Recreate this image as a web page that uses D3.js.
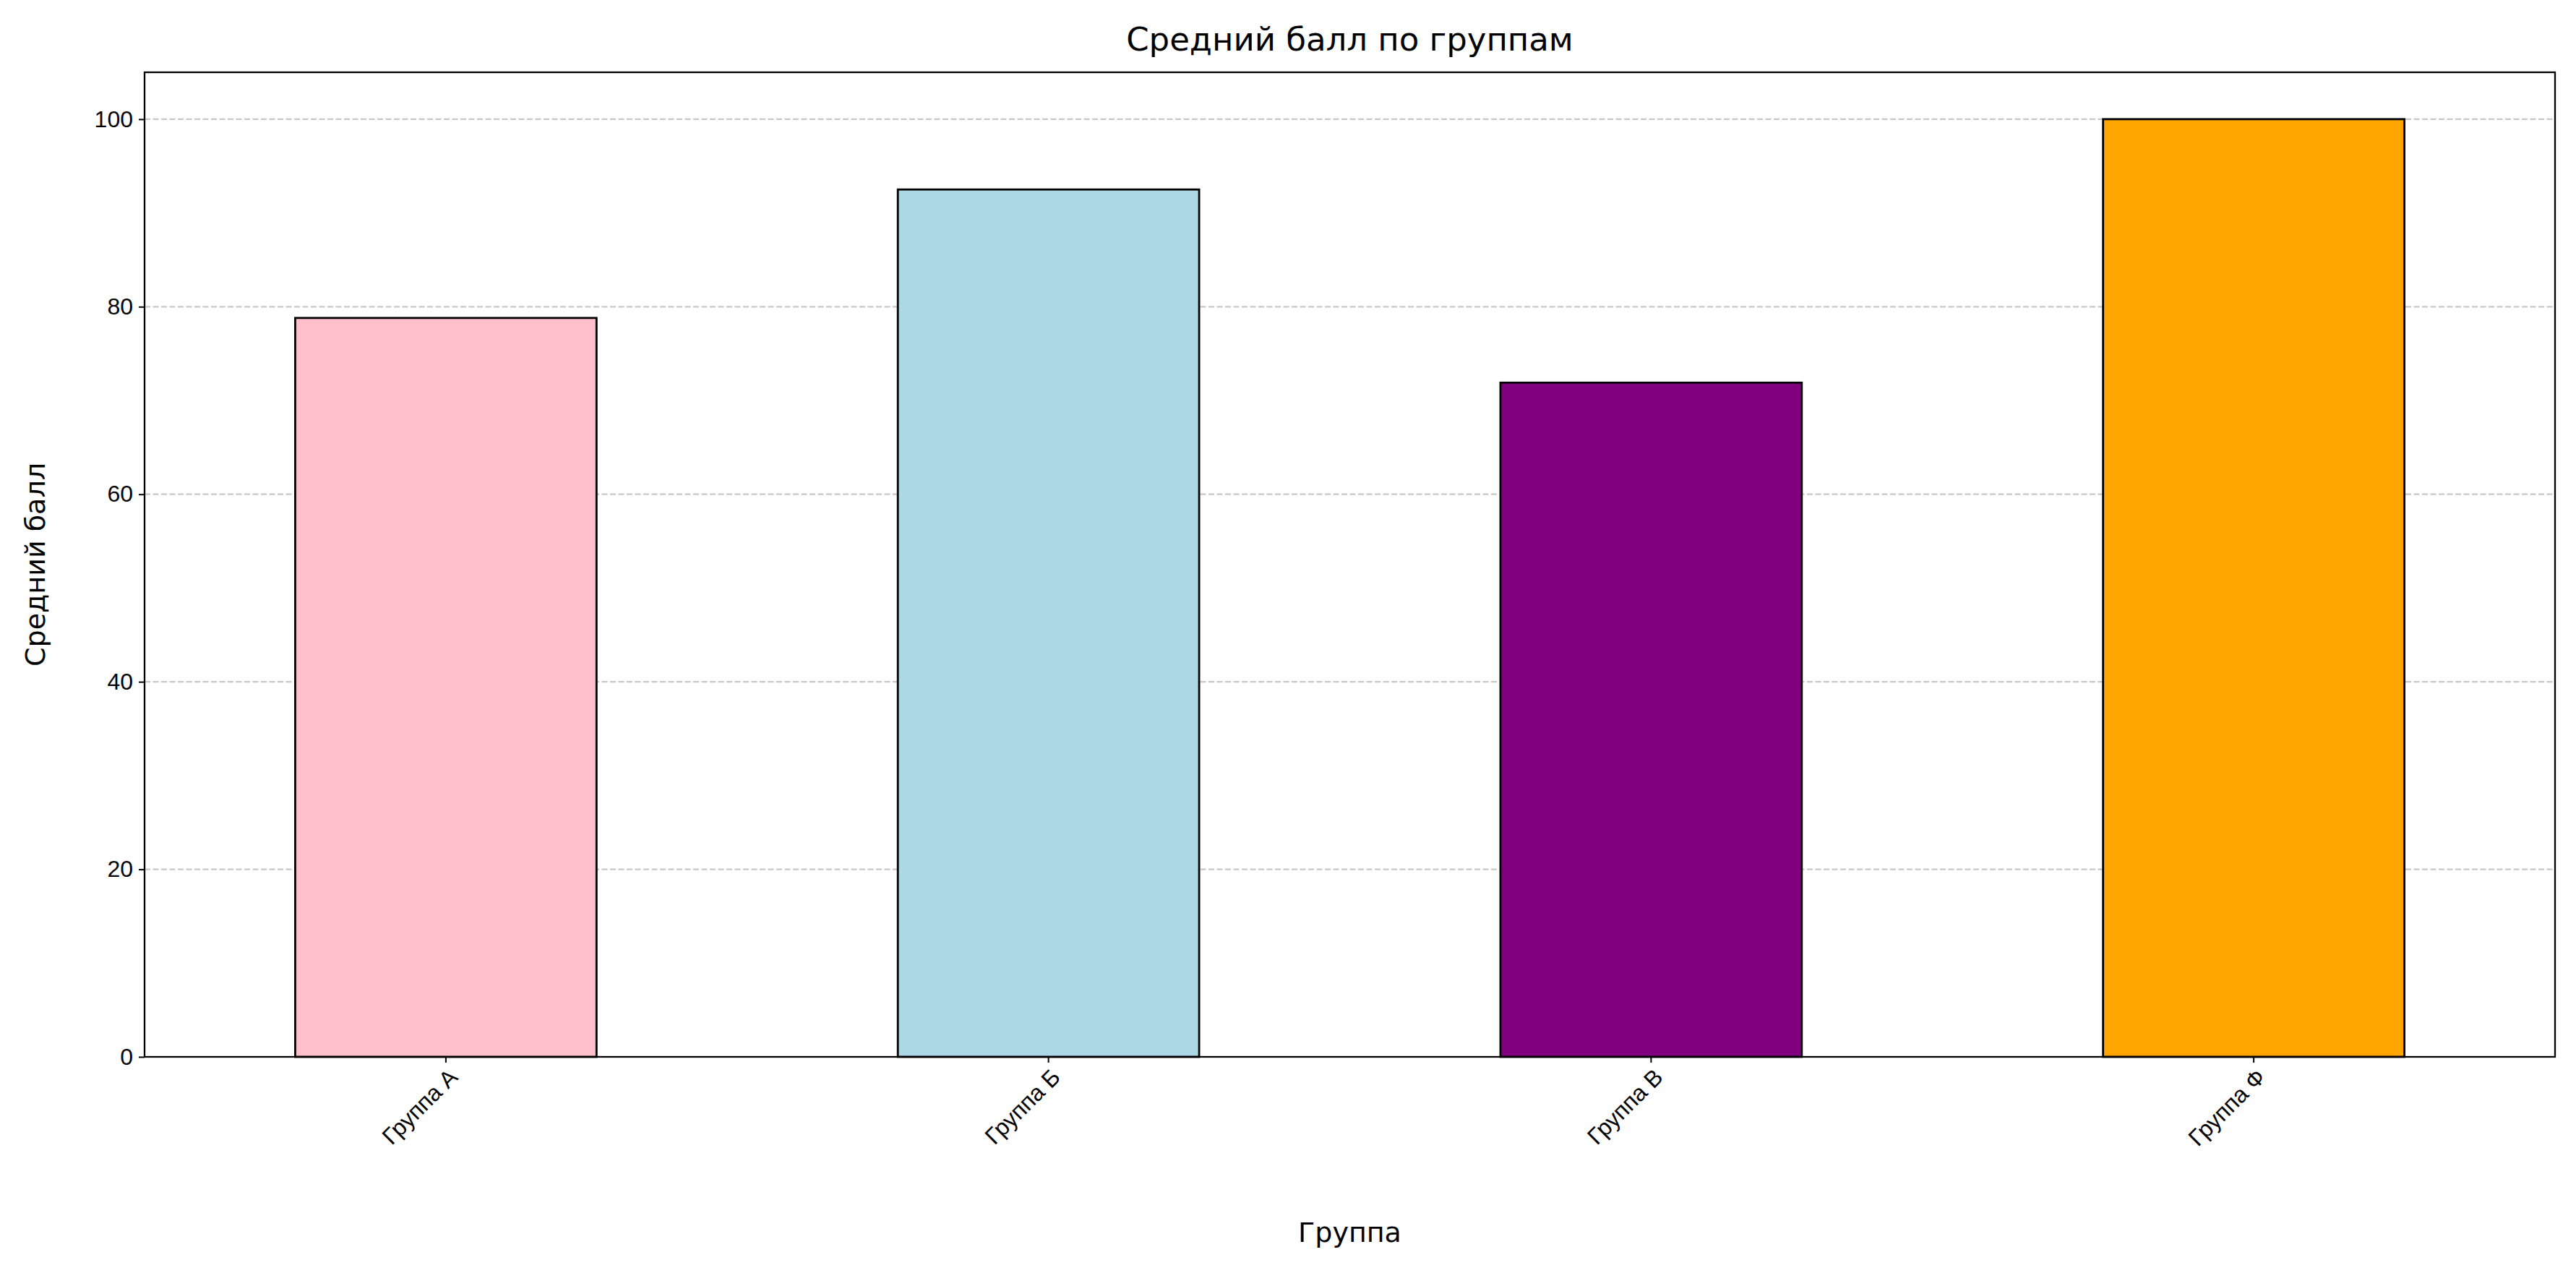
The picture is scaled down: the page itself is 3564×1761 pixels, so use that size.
<!DOCTYPE html>
<html><head><meta charset="utf-8">
<script src="https://cdn.jsdelivr.net/npm/d3@7"></script>
<style>body{margin:0;background:#fff}svg{font-family:"DejaVu Sans",sans-serif}</style>
</head><body>
<script>
const categories = ["Группа А","Группа Б","Группа В","Группа Ф"];
const values = [78.8, 92.5, 71.9, 100];
const colors = ["pink","lightblue","purple","orange"];
const yTicks = [0,20,40,60,80,100];

const W=3564,H=1761, m={l:200,r:29,t:100,b:299};
const svg=d3.select("body").append("svg").attr("width",W).attr("height",H);
const iw=W-m.l-m.r, ih=H-m.t-m.b;
const g=svg.append("g").attr("transform",`translate(${m.l},${m.t})`);
const x=d3.scaleBand().domain(categories).range([0,iw]).paddingInner(0.5).paddingOuter(0.25);
const y=d3.scaleLinear().domain([0,105]).range([ih,0]);

g.selectAll(".grid").data(yTicks.slice(1)).enter().append("line")
 .attr("x1",0).attr("x2",iw).attr("y1",d=>y(d)).attr("y2",d=>y(d))
 .attr("stroke","#b0b0b0").attr("stroke-opacity",0.7).attr("stroke-width",2.3).attr("stroke-dasharray","8,3.5");

g.selectAll(".bar").data(values).enter().append("rect")
 .attr("x",(d,i)=>x(categories[i])).attr("width",x.bandwidth())
 .attr("y",d=>y(d)).attr("height",d=>ih-y(d))
 .attr("fill",(d,i)=>colors[i]).attr("stroke","#000").attr("stroke-width",2.8);

const ya=g.append("g").call(d3.axisLeft(y).tickValues(yTicks).tickSize(8).tickPadding(8));
ya.selectAll("text").attr("font-size",32).attr("fill","#000");
const xa=g.append("g").attr("transform",`translate(0,${ih})`).call(d3.axisBottom(x).tickSize(8).tickPadding(8));
xa.selectAll("text").attr("font-size",32).attr("fill","#000")
 .attr("text-anchor","end").attr("dy","0.3em").attr("transform","translate(0,12) rotate(-45)");
[ya,xa].forEach(a=>{a.selectAll("line").attr("stroke","#000").attr("stroke-width",2);a.select(".domain").remove();});
g.append("rect").attr("width",iw).attr("height",ih).attr("fill","none").attr("stroke","#000").attr("stroke-width",2.3);

svg.append("text").attr("x",m.l+iw/2).attr("y",70).attr("text-anchor","middle").attr("font-size",45).text("Средний балл по группам");
svg.append("text").attr("x",m.l+iw/2).attr("y",1718).attr("text-anchor","middle").attr("font-size",38).text("Группа");
svg.append("text").attr("transform",`translate(62,${m.t+ih/2}) rotate(-90)`).attr("text-anchor","middle").attr("font-size",38).text("Средний балл");
</script>
</body></html>
